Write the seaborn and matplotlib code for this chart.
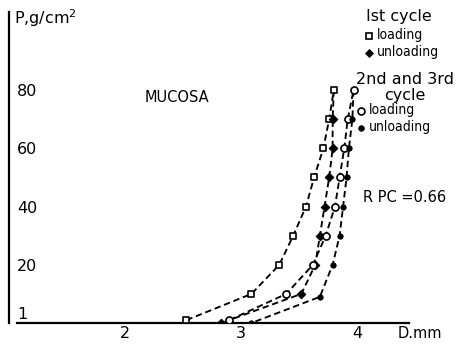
import matplotlib
matplotlib.use("Agg")
import matplotlib.pyplot as plt
from matplotlib import font_manager
from matplotlib.lines import Line2D
from matplotlib.transforms import ScaledTranslation
import pandas as pd
import seaborn as sns

# Pressure (g/cm^2) against diameter D (mm), mucosa
load1_d = [2.53, 3.09, 3.33, 3.45, 3.56, 3.63, 3.71, 3.76, 3.80]
load1_p = [1, 10, 20, 30, 40, 50, 60, 70, 80]
unload1_d = [3.80, 3.79, 3.79, 3.76, 3.72, 3.68, 3.64, 3.52, 2.83]
unload1_p = [80, 70, 60, 50, 40, 30, 20, 10, 0]
load2_d = [2.90, 3.39, 3.62, 3.73, 3.81, 3.85, 3.89, 3.92, 3.97]
load2_p = [1, 10, 20, 30, 40, 50, 60, 70, 80]
unload2_d = [3.97, 3.96, 3.93, 3.91, 3.88, 3.85, 3.79, 3.68, 3.09]
unload2_p = [80, 70, 60, 50, 40, 30, 20, 9, 0]

x_ticks = [2, 3, 4]
y_ticks = [1, 20, 40, 60, 80]
y_minor = [10, 30, 50, 70]
rpc_text = "R PC =0.66"

sns.set_style("white")
plt.rcParams["font.family"] = ["DejaVu Sans"]
for key in ("text.color", "axes.labelcolor", "xtick.color", "ytick.color"):
    plt.rcParams[key] = "black"

# a narrow face for the key entries
fonts = font_manager.fontManager.ttflist
if any(f.name == "Liberation Sans Narrow" for f in fonts):
    entry_font = dict(family=["Liberation Sans Narrow", "DejaVu Sans"], fontsize=11)
elif any(f.name == "DejaVu Sans" and f.stretch == "condensed" for f in fonts):
    entry_font = dict(family=["DejaVu Sans"], stretch="condensed", fontsize=10)
else:
    entry_font = dict(family=["Lato", "DejaVu Sans"], fontsize=10)

W, H = 464, 345
fig = plt.figure(figsize=(W / 100, H / 100), dpi=100)
ax = fig.add_axes([9 / W, 1 - 323 / H, 400 / W, 311 / H])

dash = (0, (3.4, 2.0))
lw = 1.35

styles = {
    "load1": dict(marker="s", s=24, facecolor="white", edgecolor="black", linewidth=1.2),
    "unload1": dict(marker="D", s=20, facecolor="black", edgecolor="black", linewidth=0.6),
    "load2": dict(marker="o", s=26, facecolor="white", edgecolor="black", linewidth=1.2),
    "unload2": dict(marker="o", s=15, facecolor="black", edgecolor="black", linewidth=0.6),
}
series = [
    ("load1", load1_d, load1_p, 0),
    ("unload1", unload1_d, unload1_p, 1),
    ("load2", load2_d, load2_p, 0),
    ("unload2", unload2_d, unload2_p, 1),
]

for key, d, p, skip in series:
    df = pd.DataFrame({"D": d, "P": p})
    sns.lineplot(data=df, x="D", y="P", sort=False, estimator=None, ax=ax,
                 color="black", linewidth=lw, linestyle=dash)
    sns.scatterplot(data=df.iloc[skip:], x="D", y="P", ax=ax, zorder=3, **styles[key])

ax.set_xlim(1.0, 1.0 + 400 / 116)
ax.set_ylim(0, 311 / 2.91)

for s in ("top", "right"):
    ax.spines[s].set_visible(False)
for s in ("left", "bottom"):
    ax.spines[s].set_linewidth(1.6)
    ax.spines[s].set_color("black")
ax.spines["bottom"].set_bounds(1.07, 1.0 + 400 / 116)

ax.set_xticks(x_ticks)
ax.set_xticklabels([str(v) for v in x_ticks])
ax.set_yticks(y_ticks)
ax.set_yticklabels([str(v) for v in y_ticks])
ax.set_yticks(y_minor, minor=True)
ax.tick_params(axis="x", direction="in", length=3, width=1, pad=2, labelsize=11.5)
ax.tick_params(axis="y", which="both", direction="in", length=4, width=1.2, pad=-6, labelsize=11.5)
plt.setp(ax.get_yticklabels(), ha="left")
# lift the lowest pressure label clear of the D axis
low = ax.get_yticklabels()[0]
low.set_transform(low.get_transform() + ScaledTranslation(0, 7 / 100, fig.dpi_scale_trans))
ax.set_xlabel("")
ax.set_ylabel("")

def px(x, y):
    return x / W, 1 - y / H

fig.text(*px(14, 24), "P,g/cm$^{2}$", fontsize=11.5, va="baseline", ha="left")
fig.text(*px(398, 333), "D.mm", fontsize=10.5, va="center", ha="left")
fig.text(*px(145, 97), "MUCOSA", fontsize=10.5, va="center", ha="left")
fig.text(*px(363, 198), rpc_text, fontsize=10.5, va="center", ha="left")

# key: cycle headings with their marker entries
def key_marker(x, y, style):
    size = {"s": 4.8, "D": 4.4}.get(style["marker"], 5.0 if style["facecolor"] == "white" else 4.0)
    fig.add_artist(Line2D([x / W], [1 - y / H], transform=fig.transFigure, linestyle="none",
                          marker=style["marker"], markersize=size,
                          markerfacecolor=style["facecolor"], markeredgecolor="black",
                          markeredgewidth=style["linewidth"]))

fig.text(*px(366, 17), "Ist cycle", fontsize=11.5, va="center", ha="left")
key_marker(369, 36, styles["load1"])
fig.text(*px(377, 35), "loading", va="center", ha="left", **entry_font)
key_marker(369, 53, styles["unload1"])
fig.text(*px(377, 52), "unloading", va="center", ha="left", **entry_font)

fig.text(*px(405, 79), "2nd and 3rd", fontsize=11.5, va="center", ha="center")
fig.text(*px(405, 96), "cycle", fontsize=11.5, va="center", ha="center")
key_marker(361, 111, styles["load2"])
fig.text(*px(369, 110), "loading", va="center", ha="left", **entry_font)
key_marker(361, 128, styles["unload2"])
fig.text(*px(369, 127), "unloading", va="center", ha="left", **entry_font)

fig.savefig("out.png", dpi=100)
